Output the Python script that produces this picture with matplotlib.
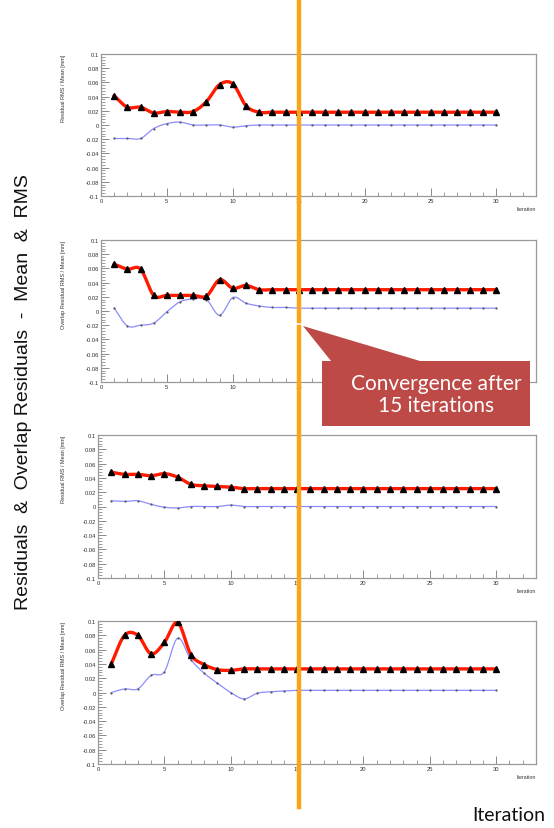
import numpy as np
import matplotlib.pyplot as plt
from matplotlib.lines import Line2D
from matplotlib.patches import Polygon, Rectangle
from matplotlib.ticker import MultipleLocator

iterations = list(range(1, 31))

rms_res_top = [0.041, 0.025, 0.025, 0.017, 0.019, 0.018, 0.019, 0.033, 0.057, 0.058,
               0.027, 0.018, 0.018, 0.018, 0.018, 0.018, 0.018, 0.018, 0.018, 0.018,
               0.018, 0.018, 0.018, 0.018, 0.018, 0.018, 0.018, 0.018, 0.018, 0.018]
mean_res_top = [-0.019, -0.019, -0.019, -0.005, 0.002, 0.004, 0.000, 0.000, 0.000, -0.003,
                -0.001, 0.000, 0.000, 0.000, 0.000, 0.000, 0.000, 0.000, 0.000, 0.000,
                0.000, 0.000, 0.000, 0.000, 0.000, 0.000, 0.000, 0.000, 0.000, 0.000]

rms_ovl_top = [0.066, 0.059, 0.059, 0.022, 0.022, 0.022, 0.022, 0.021, 0.044, 0.032,
               0.036, 0.030, 0.030, 0.030, 0.030, 0.030, 0.030, 0.030, 0.030, 0.030,
               0.030, 0.030, 0.030, 0.030, 0.030, 0.030, 0.030, 0.030, 0.030, 0.030]
mean_ovl_top = [0.004, -0.021, -0.020, -0.017, -0.001, 0.013, 0.017, 0.016, -0.006, 0.019,
                0.011, 0.007, 0.005, 0.005, 0.004, 0.004, 0.004, 0.004, 0.004, 0.004,
                0.004, 0.004, 0.004, 0.004, 0.004, 0.004, 0.004, 0.004, 0.004, 0.004]

rms_res_bot = [0.048, 0.045, 0.045, 0.043, 0.046, 0.041, 0.031, 0.029, 0.028, 0.027,
               0.025, 0.025, 0.025, 0.025, 0.025, 0.025, 0.025, 0.025, 0.025, 0.025,
               0.025, 0.025, 0.025, 0.025, 0.025, 0.025, 0.025, 0.025, 0.025, 0.025]
mean_res_bot = [0.008, 0.007, 0.008, 0.003, -0.001, -0.002, 0.000, 0.000, 0.000, 0.002,
                0.000, 0.000, 0.000, 0.000, 0.000, 0.000, 0.000, 0.000, 0.000, 0.000,
                0.000, 0.000, 0.000, 0.000, 0.000, 0.000, 0.000, 0.000, 0.000, 0.000]

rms_ovl_bot = [0.040, 0.080, 0.080, 0.054, 0.070, 0.098, 0.053, 0.039, 0.032, 0.031,
               0.033, 0.033, 0.033, 0.033, 0.033, 0.033, 0.033, 0.033, 0.033, 0.033,
               0.033, 0.033, 0.033, 0.033, 0.033, 0.033, 0.033, 0.033, 0.033, 0.033]
mean_ovl_bot = [0.000, 0.005, 0.005, 0.024, 0.029, 0.076, 0.046, 0.027, 0.013, 0.000,
                -0.009, -0.001, 0.001, 0.002, 0.003, 0.003, 0.003, 0.003, 0.003, 0.003,
                0.003, 0.003, 0.003, 0.003, 0.003, 0.003, 0.003, 0.003, 0.003, 0.003]

x_ticks = [0, 5, 10, 15, 20, 25, 30]
y_ticks = [-0.1, -0.08, -0.06, -0.04, -0.02, 0.0, 0.02, 0.04, 0.06, 0.08, 0.1]
y_ticklabels = ["-0.1", "-0.08", "-0.06", "-0.04", "-0.02", "0",
                "0.02", "0.04", "0.06", "0.08", "0.1"]

panels = [
    ("Residual RMS / Mean [mm]", rms_res_top, mean_res_top),
    ("Overlap Residual RMS / Mean [mm]", rms_ovl_top, mean_ovl_top),
    ("Residual RMS / Mean [mm]", rms_res_bot, mean_res_bot),
    ("Overlap Residual RMS / Mean [mm]", rms_ovl_bot, mean_ovl_bot),
]
# frame boxes in pixels: left, top, bottom
boxes = [(101, 55, 197), (101, 241, 383), (98, 436, 579), (98, 622, 765)]

W, H = 554, 829
FRAME_RIGHT = 536


def smooth(x, y, n=16):
    """Catmull-Rom curve through the points (close to ROOT's "C" option)."""
    x = np.asarray(x, float)
    y = np.asarray(y, float)
    m = np.gradient(y, x)
    xs, ys = [], []
    for i in range(len(x) - 1):
        h = x[i + 1] - x[i]
        t = np.linspace(0, 1, n, endpoint=False)
        h00 = 2 * t**3 - 3 * t**2 + 1
        h10 = t**3 - 2 * t**2 + t
        h01 = -2 * t**3 + 3 * t**2
        h11 = t**3 - t**2
        xs.append(x[i] + t * h)
        ys.append(h00 * y[i] + h10 * h * m[i] + h01 * y[i + 1] + h11 * h * m[i + 1])
    xs.append([x[-1]])
    ys.append([y[-1]])
    return np.concatenate(xs), np.concatenate(ys)


fig = plt.figure(figsize=(W / 100, H / 100), dpi=100)
fig.patch.set_facecolor("white")

for k, ((ylabel, rms, mean), (left, top, bottom)) in enumerate(zip(panels, boxes)):
    ax = fig.add_axes([left / W, 1 - bottom / H, (FRAME_RIGHT - left) / W, (bottom - top) / H])
    sx, sy = smooth(iterations, mean)
    ax.plot(sx, sy, color="#8c8cff", lw=0.9, zorder=2)
    ax.plot(iterations, mean, ls="none", marker=".", ms=1.2, color="#555555", zorder=3)
    sx, sy = smooth(iterations, rms)
    ax.plot(sx, sy, color="#ff1a00", lw=2.4, zorder=4)
    ax.plot(iterations, rms, ls="none", marker="^", ms=4.2, color="black", zorder=5)

    ax.set_xlim(0, 33)
    ax.set_ylim(-0.1, 0.1)
    ax.xaxis.set_minor_locator(MultipleLocator(1))
    ax.yaxis.set_minor_locator(MultipleLocator(0.004))
    ax.set_xticks(x_ticks)
    covered = k == 1  # right part of panel 2 sits under the callout box
    ax.set_xticklabels([str(v) if not (covered and v >= 20) else "" for v in x_ticks])
    ax.set_yticks(y_ticks)
    ax.set_yticklabels(y_ticklabels)
    ax.tick_params(which="both", direction="in", top=False, right=False,
                   color="#777777", labelsize=4.2, labelcolor="#333333", pad=1.5)
    ax.tick_params(which="major", length=6, width=0.6)
    ax.tick_params(which="minor", length=3, width=0.5)
    for s in ax.spines.values():
        s.set_color("#999999")
        s.set_linewidth(0.9)
    for lab in ax.get_xticklabels() + ax.get_yticklabels():
        lab.set_family("Liberation Sans")

    ax.text((64 - left) / (FRAME_RIGHT - left), 1.0, ylabel, rotation=90, ha="center",
            va="top", fontsize=4, color="#333333", family="Liberation Sans",
            transform=ax.transAxes)
    if not covered:
        ax.text(1.0, -0.07, "Iteration", ha="right", va="top", fontsize=3.8,
                color="#333333", family="Liberation Sans", transform=ax.transAxes)

# orange marker of the converged iteration
orange = "#f9a51c"
xo = 298.5 / W
fig.add_artist(Line2D([xo, xo], [1 - 3 / H, 1 - 322 / H], color=orange, lw=3.2, zorder=6,
                      transform=fig.transFigure))
fig.add_artist(Line2D([xo, xo], [1 - 328 / H, 1 - 808 / H], color=orange, lw=3.2, zorder=6,
                      transform=fig.transFigure))

# callout box
red = "#be4a47"
pointer = [(303, 327), (331, 362), (420, 362)]
fig.add_artist(Polygon([(px / W, 1 - py / H) for px, py in pointer], closed=True,
                       facecolor=red, edgecolor="none", zorder=7, transform=fig.transFigure))
fig.add_artist(Rectangle((322 / W, 1 - 427 / H), (530 - 322) / W, (427 - 362) / H,
                         facecolor=red, edgecolor="none", zorder=7, transform=fig.transFigure))
fig.text(436 / W, 1 - 395 / H, "Convergence after\n15 iterations", ha="center",
         va="center", color="white", fontsize=15, family="Lato", linespacing=1.15,
         zorder=8)

fig.text(24 / W, 1 - 392 / H, "Residuals  &  Overlap Residuals  -  Mean  &  RMS",
         rotation=90, ha="center", va="center", fontsize=14, family="Liberation Sans",
         color="#111111")
fig.text(545 / W, 1 - 816 / H, "Iteration", ha="right", va="center", fontsize=14,
         family="Lato", color="#111111")

fig.savefig("out.png", dpi=100)
